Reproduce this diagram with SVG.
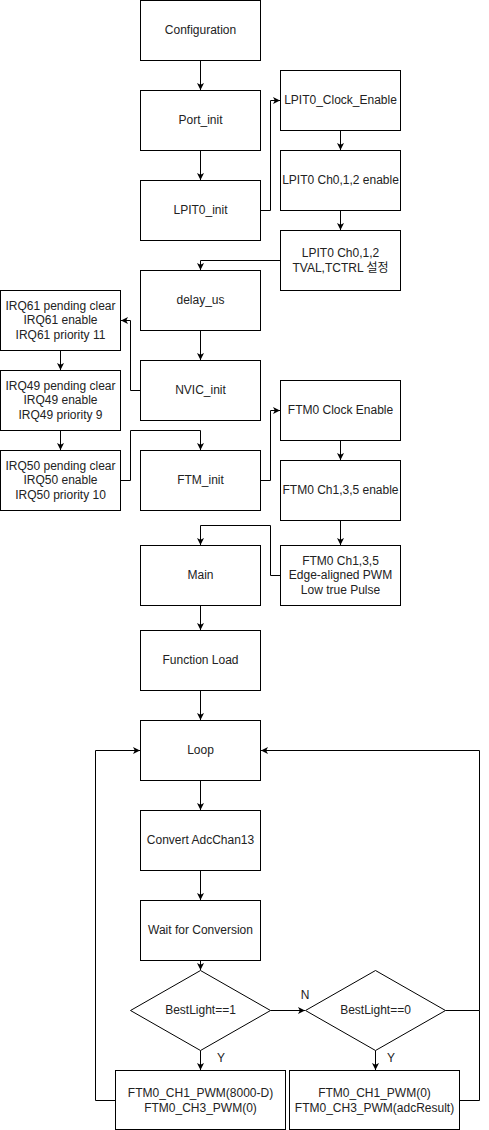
<svg xmlns="http://www.w3.org/2000/svg" width="489" height="1130" viewBox="0 0 489 1130">
<style>
.b{fill:#fff;stroke:#000;stroke-width:1}
.t{font-family:"Liberation Sans","Noto Sans CJK KR",sans-serif;font-size:12px;fill:#222;text-anchor:middle}
.c{fill:none;stroke:#000;stroke-width:1}
</style>
<defs>
<marker id="a" viewBox="0 0 8 8" refX="7.5" refY="4" markerWidth="8" markerHeight="8" orient="auto" markerUnits="userSpaceOnUse"><path d="M0.5,0.5 L7.5,4 L0.5,7.5 L2.3,4 Z" fill="#000"/></marker>
</defs>
<rect width="489" height="1130" fill="#fff"/>
<g id="connectors">
<path class="c" d="M200.5,60.5 V90" marker-end="url(#a)"/>
<path class="c" d="M200.5,150.5 V180" marker-end="url(#a)"/>
<path class="c" d="M260.5,210.5 H270.5 V100.5 H280" marker-end="url(#a)"/>
<path class="c" d="M340.5,130.5 V150" marker-end="url(#a)"/>
<path class="c" d="M340.5,210.5 V230" marker-end="url(#a)"/>
<path class="c" d="M280.5,260.5 H200.5 V270" marker-end="url(#a)"/>
<path class="c" d="M200.5,330.5 V360" marker-end="url(#a)"/>
<path class="c" d="M140.5,390.5 H130.5 V320.5 H121" marker-end="url(#a)"/>
<path class="c" d="M60.5,350.5 V370" marker-end="url(#a)"/>
<path class="c" d="M60.5,430.5 V450" marker-end="url(#a)"/>
<path class="c" d="M120.5,480.5 H130.5 V430.5 H200.5 V450" marker-end="url(#a)"/>
<path class="c" d="M260.5,480.5 H270.5 V410.5 H280" marker-end="url(#a)"/>
<path class="c" d="M340.5,440.5 V460" marker-end="url(#a)"/>
<path class="c" d="M340.5,520.5 V545" marker-end="url(#a)"/>
<path class="c" d="M280.5,575.5 H270.5 V525.5 H200.5 V545" marker-end="url(#a)"/>
<path class="c" d="M200.5,605.5 V630" marker-end="url(#a)"/>
<path class="c" d="M200.5,690.5 V720" marker-end="url(#a)"/>
<path class="c" d="M200.5,780.5 V810" marker-end="url(#a)"/>
<path class="c" d="M200.5,870.5 V900" marker-end="url(#a)"/>
<path class="c" d="M200.5,960.5 V970" marker-end="url(#a)"/>
<path class="c" d="M200.5,1050.5 V1070" marker-end="url(#a)"/>
<path class="c" d="M270.5,1010.5 H305" marker-end="url(#a)"/>
<path class="c" d="M375.5,1050.5 V1070" marker-end="url(#a)"/>
<path class="c" d="M445.5,1010.5 H479.5 V750.5 H261" marker-end="url(#a)"/>
<path class="c" d="M459.5,1100.5 H479.5 V1010.5"/>
<path class="c" d="M115.5,1100.5 H95.5 V750.5 H140" marker-end="url(#a)"/>
<text class="t" x="221" y="1062">Y</text>
<text class="t" x="305" y="999">N</text>
<text class="t" x="391" y="1062">Y</text>
</g>
<g id="configuration"><rect class="b" x="140.5" y="0.5" width="120" height="60"/><text class="t" x="200.5" y="34">Configuration</text></g>
<g id="port_init"><rect class="b" x="140.5" y="90.5" width="120" height="60"/><text class="t" x="200.5" y="124">Port_init</text></g>
<g id="lpit0_init"><rect class="b" x="140.5" y="180.5" width="120" height="60"/><text class="t" x="200.5" y="214">LPIT0_init</text></g>
<g id="lpit0_clock"><rect class="b" x="280.5" y="70.5" width="120" height="60"/><text class="t" x="340.5" y="104">LPIT0_Clock_Enable</text></g>
<g id="lpit0_ch_enable"><rect class="b" x="280.5" y="150.5" width="120" height="60"/><text class="t" x="340.5" y="184">LPIT0 Ch0,1,2 enable</text></g>
<g id="lpit0_tval"><rect class="b" x="280.5" y="230.5" width="120" height="60"/><text class="t" x="340.5" y="257">LPIT0 Ch0,1,2</text><text class="t" x="340.5" y="272">TVAL,TCTRL 설정</text></g>
<g id="delay_us"><rect class="b" x="140.5" y="270.5" width="120" height="60"/><text class="t" x="200.5" y="304">delay_us</text></g>
<g id="nvic_init"><rect class="b" x="140.5" y="360.5" width="120" height="60"/><text class="t" x="200.5" y="394">NVIC_init</text></g>
<g id="irq61"><rect class="b" x="0.5" y="290.5" width="120" height="60"/><text class="t" x="60.5" y="310">IRQ61 pending clear</text><text class="t" x="60.5" y="324">IRQ61 enable</text><text class="t" x="60.5" y="339">IRQ61 priority 11</text></g>
<g id="irq49"><rect class="b" x="0.5" y="370.5" width="120" height="60"/><text class="t" x="60.5" y="390">IRQ49 pending clear</text><text class="t" x="60.5" y="404">IRQ49 enable</text><text class="t" x="60.5" y="419">IRQ49 priority 9</text></g>
<g id="irq50"><rect class="b" x="0.5" y="450.5" width="120" height="60"/><text class="t" x="60.5" y="470">IRQ50 pending clear</text><text class="t" x="60.5" y="484">IRQ50 enable</text><text class="t" x="60.5" y="499">IRQ50 priority 10</text></g>
<g id="ftm_init"><rect class="b" x="140.5" y="450.5" width="120" height="60"/><text class="t" x="200.5" y="484">FTM_init</text></g>
<g id="ftm0_clock"><rect class="b" x="280.5" y="380.5" width="120" height="60"/><text class="t" x="340.5" y="414">FTM0 Clock Enable</text></g>
<g id="ftm0_ch_enable"><rect class="b" x="280.5" y="460.5" width="120" height="60"/><text class="t" x="340.5" y="494">FTM0 Ch1,3,5 enable</text></g>
<g id="ftm0_pwm"><rect class="b" x="280.5" y="545.5" width="120" height="60"/><text class="t" x="340.5" y="565">FTM0 Ch1,3,5</text><text class="t" x="340.5" y="579">Edge-aligned PWM</text><text class="t" x="340.5" y="594">Low true Pulse</text></g>
<g id="main"><rect class="b" x="140.5" y="545.5" width="120" height="60"/><text class="t" x="200.5" y="579">Main</text></g>
<g id="function_load"><rect class="b" x="140.5" y="630.5" width="120" height="60"/><text class="t" x="200.5" y="664">Function Load</text></g>
<g id="loop"><rect class="b" x="140.5" y="720.5" width="120" height="60"/><text class="t" x="200.5" y="754">Loop</text></g>
<g id="convert"><rect class="b" x="140.5" y="810.5" width="120" height="60"/><text class="t" x="200.5" y="844">Convert AdcChan13</text></g>
<g id="wait"><rect class="b" x="140.5" y="900.5" width="120" height="60"/><text class="t" x="200.5" y="934">Wait for Conversion</text></g>
<g id="bestlight1"><path class="b" d="M200.5,970.5 L270.5,1010.5 L200.5,1050.5 L130.5,1010.5 Z"/><text class="t" x="200.5" y="1014">BestLight==1</text></g>
<g id="bestlight0"><path class="b" d="M375.5,970.5 L445.5,1010.5 L375.5,1050.5 L305.5,1010.5 Z"/><text class="t" x="375.5" y="1014">BestLight==0</text></g>
<g id="pwm_y1"><rect class="b" x="115.5" y="1070.5" width="170" height="59"/><text class="t" x="200.5" y="1097">FTM0_CH1_PWM(8000-D)</text><text class="t" x="200.5" y="1112">FTM0_CH3_PWM(0)</text></g>
<g id="pwm_y0"><rect class="b" x="289.5" y="1070.5" width="170" height="59"/><text class="t" x="374.5" y="1097">FTM0_CH1_PWM(0)</text><text class="t" x="374.5" y="1112">FTM0_CH3_PWM(adcResult)</text></g>
</svg>
